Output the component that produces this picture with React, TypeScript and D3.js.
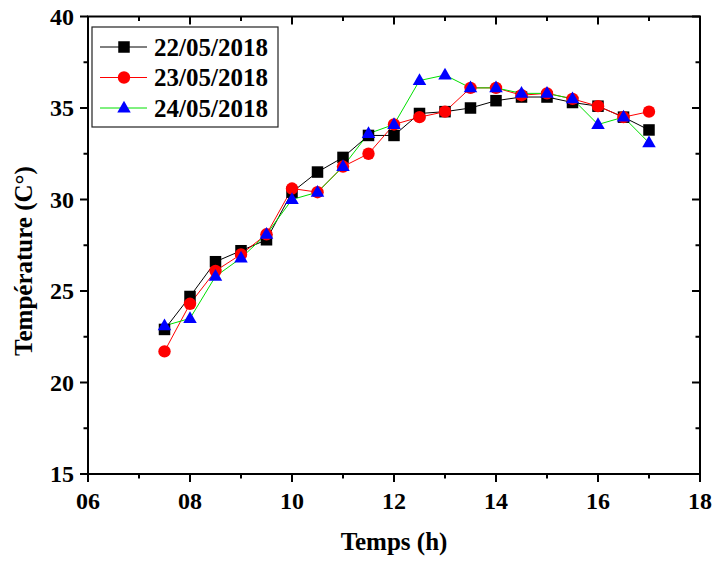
import React from "react";
import * as d3 from "d3";

const hours = [7.5, 8, 8.5, 9, 9.5, 10, 10.5, 11, 11.5, 12, 12.5, 13, 13.5, 14, 14.5, 15, 15.5, 16, 16.5, 17];
const day22 = [22.9, 24.7, 26.6, 27.2, 27.8, 30.4, 31.5, 32.3, 33.5, 33.5, 34.7, 34.8, 35.0, 35.4, 35.6, 35.6, 35.3, 35.1, 34.5, 33.8];
const day23 = [21.7, 24.3, 26.1, 27.0, 28.1, 30.6, 30.4, 31.8, 32.5, 34.1, 34.5, 34.8, 36.1, 36.1, 35.7, 35.8, 35.5, 35.1, 34.5, 34.8];
const day24 = [23.1, 23.5, 25.8, 26.8, 28.1, 30.0, 30.4, 31.8, 33.6, 34.1, 36.5, 36.8, 36.1, 36.1, 35.8, 35.8, 35.5, 34.1, 34.5, 33.1];
const seriesNames = ["22/05/2018", "23/05/2018", "24/05/2018"];
const xMajor = [6, 8, 10, 12, 14, 16, 18];
const xMinor = [7, 9, 11, 13, 15, 17];
const yMajor = [15, 20, 25, 30, 35, 40];
const yMinor = [17.5, 22.5, 27.5, 32.5, 37.5];

const W = 716, H = 563;
const L = 88, R = 700, T = 16.5, B = 474;
const txt: React.CSSProperties = { fontFamily: "'Liberation Serif', 'Times New Roman', Times, serif", fontWeight: 700 };

function Marker({ kind, x, y, color }: { kind: string; x: number; y: number; color: string }) {
  if (kind === "square") return <rect x={x - 5.75} y={y - 5.75} width={11.5} height={11.5} fill={color} />;
  if (kind === "circle") return <circle cx={x} cy={y} r={6.2} fill={color} />;
  const s = 13.5;
  const h = s * 0.87;
  return <path d={`M${x},${y - h * 0.62}L${x + s / 2},${y + h * 0.38}L${x - s / 2},${y + h * 0.38}Z`} fill={color} />;
}

export default function App() {
  const x = d3.scaleLinear().domain([6, 18]).range([L, R]);
  const y = d3.scaleLinear().domain([15, 40]).range([B, T]);
  const series = [
    { name: seriesNames[0], vals: day22, line: "#000000", mk: "#000000", kind: "square" },
    { name: seriesNames[1], vals: day23, line: "#ff0000", mk: "#ff0000", kind: "circle" },
    { name: seriesNames[2], vals: day24, line: "#00e000", mk: "#0000ff", kind: "triangle" },
  ];
  const line = d3.line<number>().x((_, i) => x(hours[i])).y((v) => y(v));
  const pad = (v: number) => (v < 10 ? "0" + v : "" + v);
  return (
    <svg width={W} height={H} style={{ position: "absolute", left: 0, top: 0, background: "#fff" }}>
      <rect x={0} y={0} width={W} height={H} fill="#fff" />
      {series.map((s) => (
        <g key={s.name}>
          <path d={line(s.vals) || ""} fill="none" stroke={s.line} strokeWidth={1} />
        </g>
      ))}
      {series.map((s) => (
        <g key={s.name + "m"}>
          {s.vals.map((v, i) => (
            <Marker key={i} kind={s.kind} x={x(hours[i])} y={y(v)} color={s.mk} />
          ))}
        </g>
      ))}
      <rect x={L} y={T} width={R - L} height={B - T} fill="none" stroke="#000" strokeWidth={2} />
      {xMajor.map((t) => (
        <g key={"xM" + t}>
          <line x1={x(t)} x2={x(t)} y1={B} y2={B + 8} stroke="#000" strokeWidth={2} />
          <line x1={x(t)} x2={x(t)} y1={T} y2={T + 8} stroke="#000" strokeWidth={2} />
          <text x={x(t)} y={509} textAnchor="middle" style={txt} fontSize={24}>{pad(t)}</text>
        </g>
      ))}
      {xMinor.map((t) => (
        <g key={"xm" + t}>
          <line x1={x(t)} x2={x(t)} y1={B} y2={B + 4.5} stroke="#000" strokeWidth={2} />
          <line x1={x(t)} x2={x(t)} y1={T} y2={T + 4.5} stroke="#000" strokeWidth={2} />
        </g>
      ))}
      {yMajor.map((t) => (
        <g key={"yM" + t}>
          <line x1={L - 8} x2={L} y1={y(t)} y2={y(t)} stroke="#000" strokeWidth={2} />
          <line x1={R - 8} x2={R} y1={y(t)} y2={y(t)} stroke="#000" strokeWidth={2} />
          <text x={74} y={y(t) + 8} textAnchor="end" style={txt} fontSize={24}>{t}</text>
        </g>
      ))}
      {yMinor.map((t) => (
        <g key={"ym" + t}>
          <line x1={L - 4.5} x2={L} y1={y(t)} y2={y(t)} stroke="#000" strokeWidth={2} />
          <line x1={R - 4.5} x2={R} y1={y(t)} y2={y(t)} stroke="#000" strokeWidth={2} />
        </g>
      ))}
      <text x={394} y={550} textAnchor="middle" style={txt} fontSize={25}>Temps (h)</text>
      <text transform="translate(32,261) rotate(-90)" textAnchor="middle" style={txt} fontSize={25}>Température (C°)</text>
      <rect x={92} y={27} width={186} height={100} fill="#fff" stroke="#222" strokeWidth={1.2} />
      {series.map((s, i) => {
        const cy = 47 + i * 30.5;
        return (
          <g key={"lg" + i}>
            <line x1={100} x2={147} y1={cy} y2={cy} stroke={s.line} strokeWidth={1} />
            <Marker kind={s.kind} x={124} y={cy} color={s.mk} />
            <text x={154} y={cy + 8.5} style={txt} fontSize={25}>{s.name}</text>
          </g>
        );
      })}
    </svg>
  );
}
